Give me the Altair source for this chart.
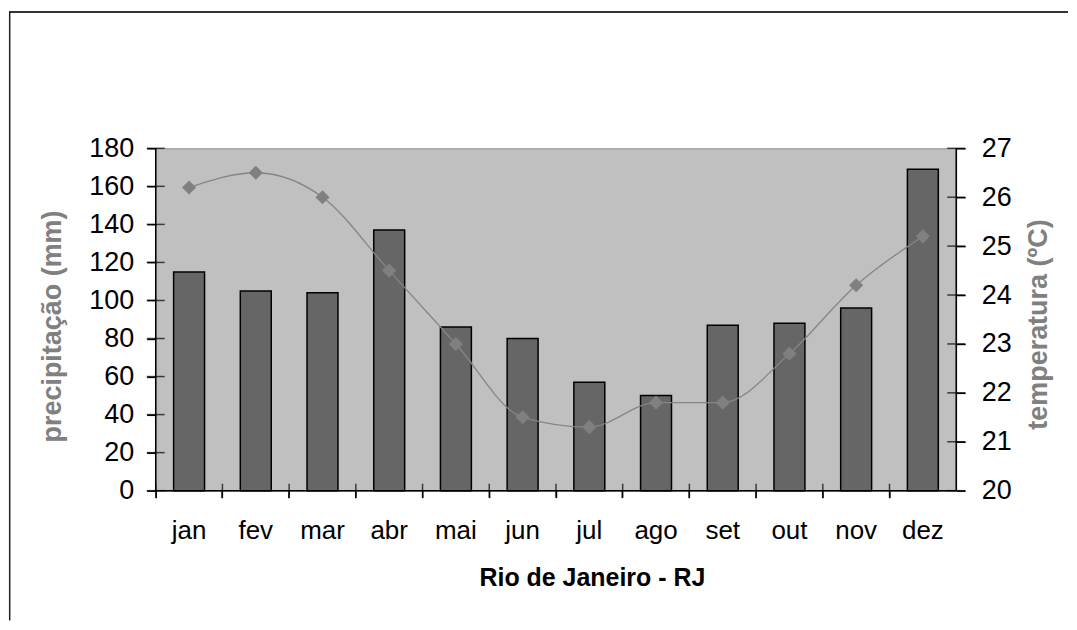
import altair as alt
import pandas as pd

months = ['jan', 'fev', 'mar', 'abr', 'mai', 'jun', 'jul', 'ago', 'set', 'out', 'nov', 'dez']
precip = [115, 105, 104, 137, 86, 80, 57, 50, 87, 88, 96, 169]
temp = [26.2, 26.5, 26.0, 24.5, 23.0, 21.5, 21.3, 21.8, 21.8, 22.8, 24.2, 25.2]
precip_ticks = list(range(0, 181, 20))
temp_ticks = list(range(20, 28))

df = pd.DataFrame({'mes': months, 'precip': precip, 'temp': temp})
one = pd.DataFrame({'a': [0]})
pt = pd.DataFrame({'v': precip_ticks})
tt = pd.DataFrame({'v': temp_ticks})
mt = pd.DataFrame({'mes': months})

FONT = 'Liberation Sans'
W, H = 802, 343

pscale = alt.Scale(domain=[0, 180], nice=False)
tscale = alt.Scale(domain=[20, 27], nice=False)
xscale = alt.Scale(domain=months, paddingInner=0, paddingOuter=0)
xaxis = alt.Axis(title='Rio de Janeiro - RJ', labelAngle=0, bandPosition=0,
                 tickSize=7, domain=False, tickColor='black', tickWidth=1.5,
                 labelPadding=20, labelFontSize=26, labelColor='black',
                 labelFont=FONT, titleFont=FONT, titleFontSize=25,
                 titleFontWeight='bold', titleColor='black', titlePadding=22,
                 titleX=437, labelOverlap=False, zindex=1)
xenc = alt.X('mes:N', sort=months, scale=xscale, axis=xaxis)

bars = alt.Chart(df).mark_bar(size=31, color='#666666', stroke='black', strokeWidth=1.5).encode(
    x=xenc,
    y=alt.Y('precip:Q', scale=pscale,
            axis=alt.Axis(title='precipitação (mm)', orient='left', values=precip_ticks,
                          tickSize=9, domain=False, tickColor='black', tickWidth=1.5,
                          labelPadding=13, labelFontSize=27, labelColor='black', labelFont=FONT,
                          titleFont=FONT, titleFontSize=27, titleFontWeight='bold',
                          titleColor='#808080', titlePadding=22, titleY=178, grid=False,
                          labelOverlap=False, zindex=1))
)
bottom_rule = alt.Chart(one).mark_rule(color='black', strokeWidth=1.5).encode(
    y=alt.YDatum(0, scale=pscale, axis=None))

line = alt.Chart(df).mark_line(color='#858585', strokeWidth=1.3, interpolate='monotone').encode(
    x=xenc,
    y=alt.Y('temp:Q', scale=tscale,
            axis=alt.Axis(title='temperatura (ºC)', orient='right', values=temp_ticks,
                          tickSize=9, domain=False, tickColor='black', tickWidth=1.5,
                          labelPadding=16, labelFontSize=27, labelColor='black', labelFont=FONT,
                          titleFont=FONT, titleFontSize=27, titleFontWeight='bold',
                          titleColor='#808080', titlePadding=14, titleAngle=270,
                          titleBaseline='top', titleY=176, grid=False, labelOverlap=False,
                          zindex=1))
)
points = alt.Chart(df).mark_point(shape='diamond', filled=True, size=200, color='#808080', opacity=1).encode(
    x=xenc,
    y=alt.Y('temp:Q', scale=tscale, axis=None)
)

# inner halves of the crossing tick marks
lticks = alt.Chart(pt).mark_tick(orient='horizontal', size=18, thickness=1.5, color='black').encode(
    y=alt.Y('v:Q', scale=pscale, axis=None), x=alt.value(0))
rticks = alt.Chart(tt).mark_tick(orient='horizontal', size=18, thickness=1.5, color='black').encode(
    y=alt.Y('v:Q', scale=tscale, axis=None), x=alt.value('width'))
xticks = alt.Chart(mt).mark_tick(orient='vertical', size=14, thickness=1.5, color='black').encode(
    x=alt.X('mes:N', sort=months, scale=xscale, axis=xaxis, bandPosition=0),
    y=alt.value('height'))

left_axis_line = alt.Chart(one).mark_rule(color='black', strokeWidth=1.5).encode(x=alt.value(0))
right_axis_line = alt.Chart(one).mark_rule(color='black', strokeWidth=1.5).encode(x=alt.value('width'))
frame_top = alt.Chart(one).mark_rule(color='#333333', strokeWidth=2).encode(
    x=alt.value(-147), x2=alt.value(914), y=alt.value(-136.5))
frame_left = alt.Chart(one).mark_rule(color='#222222', strokeWidth=1.5).encode(
    x=alt.value(-146.3), y=alt.value(-137), y2=alt.value(473))

chart = alt.layer(bars, bottom_rule, line, points, lticks, rticks, xticks,
                  left_axis_line, right_axis_line, frame_top, frame_left).resolve_scale(
    y='independent'
).properties(
    width=W, height=H,
    padding={'left': 0, 'top': 2, 'right': 0, 'bottom': 0},
    background='white'
).configure_view(fill='#c0c0c0', stroke='#8a8a8a', strokeWidth=1)

chart.save('out.html', embed_options={'renderer': 'svg', 'actions': False})
